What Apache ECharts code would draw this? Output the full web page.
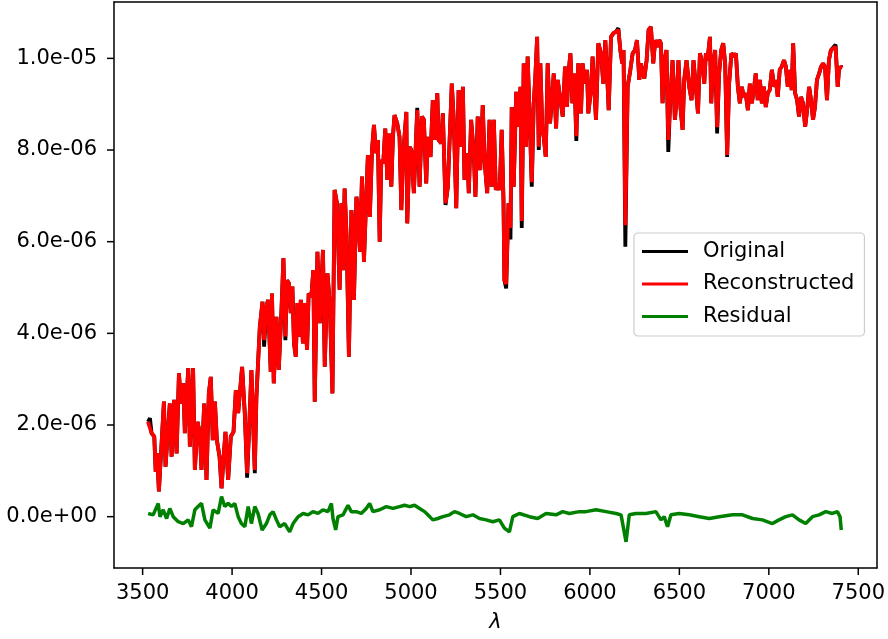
<!DOCTYPE html>
<html>
<head>
<meta charset="utf-8">
<script src="https://cdn.jsdelivr.net/npm/echarts@6/dist/echarts.min.js"></script>
<style>
  html, body { margin: 0; padding: 0; background: #fff; }
  #chart { width: 888px; height: 639px; }
</style>
</head>
<body>
<div id="chart"></div>
<script>
  // flux values are in units of 1e-6
  const wavelength = [
    3530, 3541, 3550, 3565, 3573, 3581, 3591, 3606, 3619, 3628, 3643, 3652, 3662, 3676, 3690, 3703, 3714, 3727, 3736, 3755,
    3764, 3782, 3792, 3807, 3820, 3829, 3844, 3857, 3870, 3881, 3892, 3904, 3915, 3930, 3941, 3950, 3963, 3978, 3993, 4008,
    4021, 4034, 4045, 4056, 4071, 4084, 4095, 4108, 4127, 4136, 4155, 4170, 4179, 4192, 4201, 4216, 4223, 4233, 4248, 4261,
    4276, 4287, 4298, 4307, 4318, 4328, 4337, 4346, 4356, 4365, 4374, 4384, 4396, 4406, 4419, 4428, 4443, 4454, 4462, 4477,
    4490, 4508, 4518, 4533, 4546, 4561, 4573, 4586, 4601, 4611, 4620, 4629, 4640, 4653, 4667, 4676, 4681, 4695, 4703, 4715,
    4726, 4737, 4746, 4759, 4770, 4782, 4793, 4804, 4815, 4825, 4834, 4845, 4856, 4868, 4879, 4890, 4899, 4908, 4923, 4936,
    4946, 4957, 4974, 4979, 4992, 5002, 5016, 5035, 5048, 5061, 5072, 5085, 5094, 5109, 5122, 5132, 5147, 5154, 5169, 5178,
    5193, 5206, 5215, 5228, 5239, 5253, 5266, 5281, 5290, 5299, 5314, 5323, 5336, 5351, 5360, 5373, 5387, 5401, 5411, 5426,
    5439, 5451, 5463, 5474, 5485, 5496, 5507, 5517, 5522, 5532, 5545, 5556, 5563, 5574, 5588, 5600, 5612, 5619, 5630, 5643,
    5652, 5662, 5675, 5686, 5695, 5705, 5714, 5723, 5734, 5742, 5753, 5764, 5777, 5786, 5798, 5811, 5820, 5831, 5848, 5861,
    5872, 5880, 5891, 5902, 5913, 5924, 5935, 5950, 5959, 5973, 5984, 5991, 6006, 6015, 6034, 6047, 6062, 6075, 6086, 6096,
    6105, 6118, 6132, 6146, 6159, 6170, 6181, 6188, 6198, 6211, 6226, 6239, 6252, 6263, 6276, 6285, 6304, 6317, 6328, 6341,
    6354, 6365, 6378, 6388, 6397, 6406, 6417, 6428, 6438, 6449, 6462, 6475, 6484, 6495, 6506, 6518, 6527, 6540, 6555, 6568,
    6579, 6592, 6604, 6615, 6629, 6639, 6648, 6657, 6671, 6678, 6689, 6700, 6711, 6722, 6734, 6745, 6756, 6767, 6778, 6791,
    6806, 6816, 6827, 6838, 6849, 6860, 6871, 6883, 6894, 6905, 6916, 6927, 6938, 6950, 6961, 6972, 6983, 6994, 7005, 7017,
    7029, 7039, 7050, 7061, 7072, 7085, 7095, 7106, 7117, 7128, 7136, 7147, 7158, 7169, 7180, 7191, 7203, 7214, 7225, 7236,
    7247, 7258, 7269, 7281, 7292, 7303, 7314, 7325, 7336, 7347, 7358, 7373, 7385, 7392, 7403, 7410
  ];

  const reconstructed = [
    2.07, 2.11, 1.82, 1.75, 0.98, 1.38, 0.55, 1.60, 2.51, 1.09, 1.96, 2.47, 1.31, 2.55, 1.38, 3.13, 2.47, 2.91, 1.82, 3.24,
    1.53, 3.24, 1.02, 2.07, 1.82, 1.02, 2.47, 0.80, 2.69, 3.05, 1.67, 2.51, 1.67, 1.31, 0.62, 1.16, 1.85, 0.80, 1.75, 1.85,
    2.76, 2.26, 2.22, 3.27, 2.26, 0.95, 1.89, 3.20, 1.02, 2.62, 4.14, 4.69, 3.85, 4.58, 4.73, 3.16, 4.87, 2.91, 4.36, 3.20,
    4.51, 5.64, 3.93, 5.16, 5.09, 4.44, 5.02, 3.78, 3.49, 4.66, 3.93, 4.73, 3.78, 4.66, 3.64, 4.87, 4.80, 5.38, 2.51, 5.78,
    4.22, 5.82, 3.27, 5.31, 4.66, 2.69, 7.13, 6.84, 4.95, 6.84, 5.38, 7.16, 6.11, 3.49, 6.69, 6.18, 4.73, 6.98, 6.76, 5.78,
    7.42, 5.56, 6.54, 7.89, 6.54, 8.00, 8.55, 7.93, 8.22, 6.00, 7.78, 7.71, 8.47, 7.35, 8.36, 7.20, 8.29, 8.76, 8.58, 8.29,
    6.69, 7.93, 8.83, 6.40, 8.07, 8.00, 7.06, 8.87, 7.20, 8.73, 8.66, 7.27, 8.29, 7.85, 9.09, 8.22, 9.24, 8.22, 8.15, 8.80,
    6.84, 7.20, 7.20, 9.45, 8.66, 6.73, 9.31, 8.07, 9.38, 7.35, 7.93, 7.06, 8.66, 7.93, 6.98, 8.73, 7.56, 8.98, 7.78, 7.06,
    8.66, 7.20, 8.66, 7.13, 7.27, 7.13, 8.44, 6.91, 5.16, 5.08, 6.84, 6.30, 8.94, 7.20, 9.27, 8.51, 9.38, 6.45, 9.89, 8.07,
    10.04, 8.87, 7.30, 9.02, 9.60, 10.47, 8.07, 9.89, 8.44, 8.29, 7.85, 9.89, 8.58, 9.02, 9.67, 8.47, 9.53, 9.53, 8.73, 9.82,
    8.94, 9.67, 10.11, 9.02, 9.67, 8.30, 9.89, 8.80, 9.89, 9.45, 9.75, 8.80, 9.31, 10.04, 8.66, 10.33, 10.11, 9.45, 10.40, 9.67,
    8.87, 10.47, 10.55, 10.58, 10.62, 10.18, 9.89, 10.18, 6.36, 9.38, 9.75, 10.11, 10.18, 10.40, 9.53, 9.89, 9.56, 9.96, 10.62, 10.69,
    9.89, 10.40, 10.25, 10.40, 10.33, 9.02, 9.96, 10.18, 8.22, 9.09, 9.96, 8.66, 9.09, 9.96, 8.94, 8.44, 9.53, 9.96, 9.38, 9.09,
    9.96, 9.38, 8.80, 10.11, 9.89, 9.45, 10.11, 9.96, 10.47, 9.02, 9.89, 10.18, 8.50, 9.67, 10.18, 10.33, 9.89, 7.89, 9.45, 10.11,
    10.04, 10.11, 9.38, 9.02, 9.38, 9.16, 9.24, 8.87, 9.45, 9.02, 9.31, 9.67, 9.09, 9.53, 9.02, 9.38, 8.94, 9.24, 9.31, 9.75,
    9.38, 9.53, 9.16, 9.75, 9.82, 9.96, 9.82, 9.38, 9.75, 9.31, 10.33, 9.24, 9.09, 8.73, 9.16, 9.02, 8.51, 8.87, 9.38, 9.09,
    8.66, 8.94, 9.53, 9.67, 9.82, 9.89, 9.82, 9.09, 9.96, 10.18, 10.22, 10.25, 9.38, 9.75, 9.82, 9.80
  ];

  const original = [
    2.07, 2.15, 1.82, 1.75, 0.98, 1.38, 0.55, 1.60, 2.51, 1.09, 1.96, 2.47, 1.31, 2.55, 1.38, 3.13, 2.47, 2.91, 1.82, 3.24,
    1.53, 3.24, 1.02, 2.07, 1.82, 1.02, 2.47, 0.80, 2.69, 3.05, 1.67, 2.51, 1.67, 1.31, 0.62, 1.16, 1.85, 0.80, 1.75, 1.85,
    2.76, 2.26, 2.22, 3.27, 2.26, 0.85, 1.89, 3.20, 0.95, 2.62, 4.14, 4.69, 3.71, 4.58, 4.73, 3.16, 4.87, 2.91, 4.36, 3.20,
    4.51, 5.64, 3.85, 5.16, 5.09, 4.44, 5.02, 3.78, 3.49, 4.66, 3.93, 4.73, 3.78, 4.66, 3.64, 4.87, 4.80, 5.38, 2.51, 5.78,
    4.22, 5.82, 3.27, 5.31, 4.66, 2.69, 7.13, 6.84, 4.95, 6.84, 5.38, 7.16, 6.11, 3.49, 6.69, 6.18, 4.73, 6.98, 6.76, 5.78,
    7.42, 5.56, 6.54, 7.89, 6.54, 8.00, 8.55, 7.93, 8.22, 6.00, 7.78, 7.71, 8.47, 7.35, 8.36, 7.20, 8.29, 8.76, 8.58, 8.29,
    6.69, 7.93, 8.83, 6.40, 8.07, 8.00, 7.06, 8.92, 7.20, 8.73, 8.66, 7.27, 8.29, 7.85, 9.09, 8.22, 9.24, 8.22, 8.15, 8.80,
    6.80, 7.20, 7.20, 9.45, 8.66, 6.73, 9.31, 8.07, 9.38, 7.35, 7.93, 7.06, 8.66, 7.93, 6.98, 8.73, 7.56, 8.98, 7.78, 7.06,
    8.66, 7.20, 8.66, 7.13, 7.27, 7.13, 8.44, 6.91, 5.16, 4.98, 6.84, 6.05, 8.94, 7.20, 9.27, 8.51, 9.38, 6.30, 9.89, 8.07,
    10.04, 8.87, 7.20, 9.02, 9.60, 10.47, 8.00, 9.89, 8.44, 8.29, 7.85, 9.89, 8.58, 9.02, 9.67, 8.47, 9.53, 9.53, 8.73, 9.82,
    8.94, 9.67, 10.11, 9.02, 9.67, 8.20, 9.89, 8.80, 9.89, 9.45, 9.75, 8.80, 9.31, 10.04, 8.66, 10.33, 10.11, 9.45, 10.40, 9.67,
    8.87, 10.47, 10.55, 10.58, 10.66, 10.18, 9.89, 10.18, 5.89, 9.38, 9.75, 10.11, 10.18, 10.40, 9.53, 9.89, 9.56, 9.96, 10.62, 10.69,
    9.89, 10.40, 10.25, 10.40, 10.33, 9.02, 9.96, 10.18, 7.96, 9.09, 9.96, 8.66, 9.09, 9.96, 8.94, 8.44, 9.53, 9.96, 9.38, 9.09,
    9.96, 9.38, 8.80, 10.11, 9.89, 9.45, 10.11, 9.96, 10.47, 9.02, 9.89, 10.18, 8.36, 9.67, 10.18, 10.33, 9.89, 7.85, 9.45, 10.11,
    10.04, 10.11, 9.38, 9.02, 9.38, 9.16, 9.24, 8.87, 9.45, 9.02, 9.31, 9.67, 9.09, 9.53, 9.02, 9.38, 8.94, 9.24, 9.31, 9.75,
    9.38, 9.53, 9.16, 9.75, 9.82, 9.96, 9.82, 9.38, 9.75, 9.31, 10.33, 9.24, 9.09, 8.73, 9.16, 9.02, 8.51, 8.87, 9.38, 9.09,
    8.66, 8.94, 9.53, 9.67, 9.82, 9.89, 9.82, 9.09, 9.96, 10.18, 10.22, 10.30, 9.38, 9.75, 9.82, 9.80
  ];

  const residualWavelength = [
    3531, 3559, 3587, 3597, 3615, 3634, 3652, 3671, 3699, 3727, 3755, 3773, 3792, 3810, 3829, 3848, 3876, 3894, 3922, 3941,
    3959, 3978, 3997, 4015, 4034, 4052, 4071, 4090, 4108, 4127, 4145, 4168, 4192, 4211, 4229, 4248, 4266, 4294, 4322, 4341,
    4369, 4397, 4425, 4452, 4480, 4508, 4536, 4555, 4564, 4579, 4592, 4620, 4648, 4666, 4694, 4722, 4750, 4769, 4787, 4825,
    4862, 4899, 4936, 4964, 4992, 5020, 5048, 5076, 5094, 5122, 5150, 5178, 5215, 5243, 5271, 5308, 5346, 5383, 5420, 5457,
    5494, 5522, 5550, 5569, 5606, 5662, 5708, 5755, 5811, 5848, 5885, 5941, 5978, 6034, 6090, 6146, 6174, 6202, 6220, 6257,
    6313, 6369, 6397, 6415, 6434, 6453, 6499, 6555, 6611, 6667, 6723, 6797, 6853, 6909, 6964, 7020, 7057, 7095, 7132, 7169,
    7206, 7244, 7281, 7318, 7355, 7383, 7398, 7405
  ];

  const residual = [
    0.07, 0.04, 0.29, 0.00, 0.15, -0.04, 0.18, 0.00, -0.11, -0.15, -0.07, -0.22, 0.15, 0.22, 0.29, -0.07, -0.25, 0.15, 0.07, 0.44,
    0.22, 0.29, 0.22, 0.29, 0.00, -0.15, -0.22, 0.22, -0.15, 0.22, 0.07, -0.29, -0.15, 0.04, 0.11, -0.07, -0.22, -0.15, -0.33, -0.15,
    0.00, 0.07, 0.04, 0.11, 0.07, 0.15, 0.11, 0.29, -0.04, -0.29, 0.00, 0.04, 0.25, 0.11, 0.11, 0.07, 0.18, 0.29, 0.11, 0.15,
    0.22, 0.18, 0.22, 0.25, 0.22, 0.25, 0.18, 0.11, 0.04, -0.07, -0.04, 0.00, 0.04, 0.11, 0.07, 0.00, 0.04, -0.04, -0.07, -0.11,
    -0.07, -0.25, -0.33, 0.00, 0.07, 0.00, -0.04, 0.07, 0.04, 0.11, 0.07, 0.11, 0.11, 0.15, 0.11, 0.07, 0.04, -0.55, 0.04, 0.07,
    0.07, 0.11, -0.07, 0.00, -0.22, 0.04, 0.07, 0.04, 0.00, -0.04, 0.00, 0.04, 0.04, -0.04, -0.07, -0.15, -0.07, 0.00, 0.04, -0.07,
    -0.15, 0.00, 0.04, 0.11, 0.07, 0.11, 0.00, -0.29
  ];

  const xTicks = [3500, 4000, 4500, 5000, 5500, 6000, 6500, 7000, 7500];
  const yTicks = [0, 2, 4, 6, 8, 10];
  const FLUX_UNIT = 1e-6;
  const X_MIN = 3340, X_MAX = 7604;
  const Y_MIN = -1.12, Y_MAX = 11.23;

  const font = 'DejaVu Sans';
  const fontSize = 21;
  const TICK_LEN = 7;
  const spine = { show: true, onZero: false, lineStyle: { color: '#000', width: 1.5 } };

  function pairs(xs, ys) {
    return xs.map((x, i) => [x, ys[i]]);
  }

  function sciLabel(v) {
    // matplotlib style 2.0e-06
    return (v * FLUX_UNIT).toExponential(1).replace(/e([+-])(\d)$/, 'e$10$2');
  }

  // outward tick marks, placed through the axes
  function tickSeries(values, isX) {
    return {
      type: 'custom',
      silent: true,
      clip: false,
      z: 5,
      data: values.map(v => isX ? [v, Y_MIN] : [X_MIN, v]),
      renderItem: function (params, api) {
        const p = api.coord([api.value(0), api.value(1)]);
        const shape = isX
          ? { x1: p[0], y1: p[1], x2: p[0], y2: p[1] + TICK_LEN }
          : { x1: p[0] - TICK_LEN, y1: p[1], x2: p[0], y2: p[1] };
        return {
          type: 'line',
          shape: shape,
          style: { stroke: '#000', lineWidth: 1.5 }
        };
      }
    };
  }

  const chart = echarts.init(document.getElementById('chart'));

  chart.setOption({
    animation: false,
    grid: {
      left: 114,
      right: 10,
      top: 2,
      bottom: 71,
      show: false
    },
    legend: {
      orient: 'vertical',
      left: 634,
      top: 233,
      padding: [8, 10, 9, 8],
      itemGap: 11.5,
      itemWidth: 46,
      itemHeight: 3,
      icon: 'rect',
      selectedMode: false,
      backgroundColor: 'rgba(255,255,255,0.8)',
      borderColor: '#cccccc',
      borderWidth: 1.2,
      borderRadius: 4,
      textStyle: {
        fontFamily: font,
        fontSize: fontSize,
        color: '#000',
        padding: [0, 0, 0, 10]
      },
      data: ['Original', 'Reconstructed', 'Residual']
    },
    xAxis: [
      {
        type: 'value',
        position: 'bottom',
        min: X_MIN,
        max: X_MAX,
        name: 'λ',
        nameLocation: 'middle',
        nameGap: 44,
        nameTextStyle: {
          fontFamily: font,
          fontSize: fontSize,
          fontStyle: 'italic',
          color: '#000'
        },
        splitLine: { show: false },
        axisLine: spine,
        axisTick: { show: false },
        axisLabel: {
          customValues: xTicks,
          margin: 15,
          fontFamily: font,
          fontSize: fontSize,
          color: '#000',
          formatter: v => String(v)
        }
      },
      {
        // top spine
        type: 'value',
        position: 'top',
        min: X_MIN,
        max: X_MAX,
        axisLine: spine,
        axisTick: { show: false },
        axisLabel: { show: false },
        splitLine: { show: false }
      }
    ],
    yAxis: [
      {
        type: 'value',
        position: 'left',
        min: Y_MIN,
        max: Y_MAX,
        splitLine: { show: false },
        axisLine: spine,
        axisTick: { show: false },
        axisLabel: {
          customValues: yTicks,
          margin: 17,
          fontFamily: font,
          fontSize: fontSize,
          color: '#000',
          formatter: sciLabel
        }
      },
      {
        // right spine
        type: 'value',
        position: 'right',
        min: Y_MIN,
        max: Y_MAX,
        axisLine: spine,
        axisTick: { show: false },
        axisLabel: { show: false },
        splitLine: { show: false }
      }
    ],
    series: [
      {
        name: 'Original',
        type: 'line',
        showSymbol: false,
        data: pairs(wavelength, original),
        lineStyle: { color: '#000000', width: 3.8 },
        itemStyle: { color: '#000000' }
      },
      {
        name: 'Reconstructed',
        type: 'line',
        showSymbol: false,
        data: pairs(wavelength, reconstructed),
        lineStyle: { color: '#ff0000', width: 3.8 },
        itemStyle: { color: '#ff0000' }
      },
      {
        name: 'Residual',
        type: 'line',
        showSymbol: false,
        data: pairs(residualWavelength, residual),
        lineStyle: { color: '#008000', width: 3.5 },
        itemStyle: { color: '#008000' }
      },
      tickSeries(xTicks, true),
      tickSeries(yTicks, false)
    ]
  });
</script>
</body>
</html>
